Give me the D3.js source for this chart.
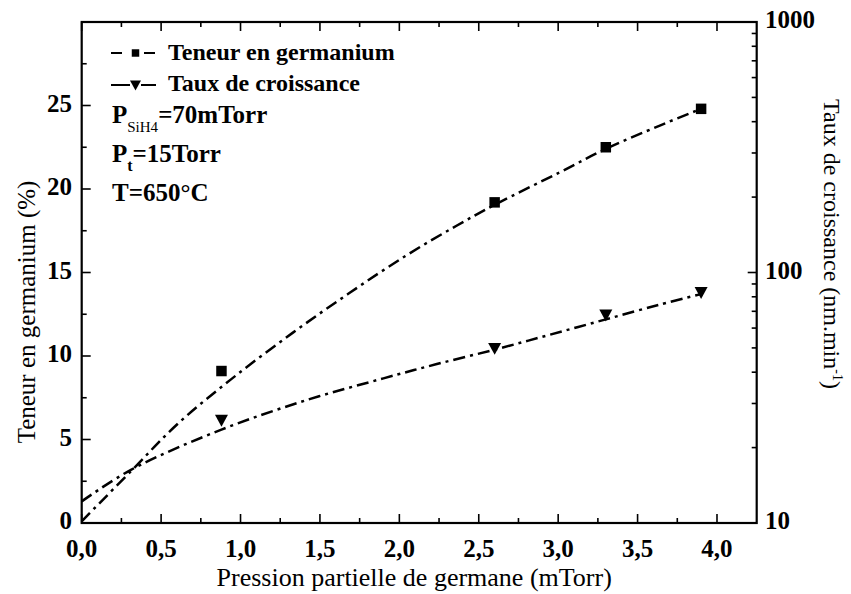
<!DOCTYPE html>
<html><head><meta charset="utf-8">
<script src="https://cdn.jsdelivr.net/npm/d3@7"></script>
<style>
body{margin:0;background:#fff;}
svg{display:block;}
text{font-family:"Liberation Serif","Times New Roman",serif;fill:#000;}
</style></head>
<body><svg id="c" width="851" height="594"></svg>
<script>
// ---- data ----
const pressure = [0.88, 2.6, 3.3, 3.9];            // mTorr
const geContent = [9.1, 19.2, 22.5, 24.8];          // %
const growthRate = [25.7, 49.8, 67.7, 83.3];        // nm/min
const geFitX = [0, 0.31, 0.6, 0.94, 1.33, 1.69, 2.04, 2.36, 2.61, 3.01, 3.3, 3.64, 3.9];
const geFitY = [0.1, 3.1, 5.9, 8.6, 11.4, 13.8, 16.0, 17.8, 19.1, 21.0, 22.4, 23.8, 24.8];
const grFitX = [0, 0.31, 0.88, 1.42, 1.9, 2.23, 2.61, 2.95, 3.3, 3.64, 3.9];
const grFitY = [12.2, 16.3, 23.6, 31.0, 37.8, 43.0, 49.4, 56.5, 65.0, 74.5, 82.0];
const xTicks = [0, 0.5, 1, 1.5, 2, 2.5, 3, 3.5, 4];
const yLTicks = [0, 5, 10, 15, 20, 25];
const yRTicks = [10, 100, 1000];
const legendLabels = ["Teneur en germanium", "Taux de croissance"];

// ---- layout ----
const L = 81.7, R = 756.7, T = 22, B = 523;
const svg = d3.select("#c");
const x = d3.scaleLinear().domain([0, 4.25]).range([L, R]);
const yL = d3.scaleLinear().domain([0, 30]).range([B, T]);
const yR = d3.scaleLog().domain([10, 1000]).range([B, T]);

svg.append("clipPath").attr("id","clip").append("rect")
  .attr("x", L).attr("y", T).attr("width", R-L).attr("height", B-T);

const fmt = d => d3.format(".1f")(d).replace(".", ",");
const MAJ = 9, MIN = 5;
const tickG = svg.append("g").attr("stroke","#000").attr("stroke-width",1.6);
const xMinor = d3.range(0.25, 4.25, 0.5);
xTicks.forEach(v => {
  tickG.append("line").attr("x1",x(v)).attr("x2",x(v)).attr("y1",B).attr("y2",B-MAJ);
  tickG.append("line").attr("x1",x(v)).attr("x2",x(v)).attr("y1",T).attr("y2",T+MAJ);
});
xMinor.forEach(v => {
  tickG.append("line").attr("x1",x(v)).attr("x2",x(v)).attr("y1",B).attr("y2",B-MIN);
  tickG.append("line").attr("x1",x(v)).attr("x2",x(v)).attr("y1",T).attr("y2",T+MIN);
});
yLTicks.forEach(v => tickG.append("line").attr("x1",L).attr("x2",L+MAJ).attr("y1",yL(v)).attr("y2",yL(v)));
d3.range(2.5, 30, 5).forEach(v => tickG.append("line").attr("x1",L).attr("x2",L+MIN).attr("y1",yL(v)).attr("y2",yL(v)));
yRTicks.forEach(v => tickG.append("line").attr("x1",R).attr("x2",R-MAJ).attr("y1",yR(v)).attr("y2",yR(v)));
[10,100].forEach(d => d3.range(2,10).forEach(k => {
  const v = d*k;
  tickG.append("line").attr("x1",R).attr("x2",R-MIN).attr("y1",yR(v)).attr("y2",yR(v));
}));

svg.append("rect").attr("x",L).attr("y",T).attr("width",R-L).attr("height",B-T)
  .attr("fill","none").attr("stroke","#000").attr("stroke-width",2.2);

// tick labels
const tf = 25;
xTicks.forEach(v => svg.append("text").attr("x",x(v)).attr("y",557).attr("text-anchor","middle")
  .attr("font-size",tf).attr("font-weight","bold").text(fmt(v)));
yLTicks.forEach(v => svg.append("text").attr("x",72).attr("y",yL(v)+6).attr("text-anchor","end")
  .attr("font-size",tf).attr("font-weight","bold").text(v));
yRTicks.forEach(v => svg.append("text").attr("x",765).attr("y",yR(v)+6).attr("text-anchor","start")
  .attr("font-size",tf).attr("font-weight","bold").text(v));

// axis titles
svg.append("text").attr("x",(L+R)/2 - 5).attr("y",586).attr("text-anchor","middle")
  .attr("font-size",26).text("Pression partielle de germane (mTorr)");
svg.append("text").attr("transform","translate(35,312) rotate(-90)").attr("text-anchor","middle")
  .attr("font-size",25).text("Teneur en germanium (%)");
const rt = svg.append("text").attr("transform","translate(824,244) rotate(90)").attr("text-anchor","middle")
  .attr("font-size",24);
rt.append("tspan").text("Taux de croissance (nm.min");
rt.append("tspan").attr("font-size",14).attr("dy",-9).text("-1");
rt.append("tspan").attr("dy",9).text(")");

// fit curves
const plot = svg.append("g").attr("clip-path","url(#clip)");
const dash = "12,5,3,5";
const geLine = d3.line().x((d,i)=>x(geFitX[i])).y(d=>yL(d)).curve(d3.curveCatmullRom);
const grLine = d3.line().x((d,i)=>x(grFitX[i])).y(d=>yR(d)).curve(d3.curveCatmullRom);
plot.append("path").attr("d",geLine(geFitY)).attr("fill","none").attr("stroke","#000")
  .attr("stroke-width",2.5).attr("stroke-dasharray",dash);
plot.append("path").attr("d",grLine(grFitY)).attr("fill","none").attr("stroke","#000")
  .attr("stroke-width",2.5).attr("stroke-dasharray",dash);

// markers
const sq = d3.symbol().type(d3.symbolSquare).size(110);
const tri = (cx, cy, w) => `M${cx-w/2},${cy-w*0.42}L${cx+w/2},${cy-w*0.42}L${cx},${cy+w*0.5}Z`;
pressure.forEach((p,i) => {
  svg.append("path").attr("d",sq()).attr("transform",`translate(${x(p)},${yL(geContent[i])})`).attr("fill","#000");
  svg.append("path").attr("d",tri(x(p), yR(growthRate[i]), 13)).attr("fill","#000");
});

// legend
const lg = svg.append("g");
lg.append("line").attr("x1",111).attr("x2",122).attr("y1",53).attr("y2",53).attr("stroke","#000").attr("stroke-width",2);
lg.append("line").attr("x1",144).attr("x2",155).attr("y1",53).attr("y2",53).attr("stroke","#000").attr("stroke-width",2);
lg.append("path").attr("d",d3.symbol().type(d3.symbolSquare).size(56)()).attr("transform","translate(135.5,53)");
lg.append("line").attr("x1",111).attr("x2",130).attr("y1",85).attr("y2",85).attr("stroke","#000").attr("stroke-width",2);
lg.append("line").attr("x1",141).attr("x2",156).attr("y1",85).attr("y2",85).attr("stroke","#000").attr("stroke-width",2);
lg.append("path").attr("d",tri(135.5,85,11));
legendLabels.forEach((t,i) => lg.append("text").attr("x",168).attr("y",60+i*31)
  .attr("font-size",24).attr("font-weight","bold").text(t));

const info = svg.append("g").attr("font-weight","bold").attr("font-size",25);
const t1 = info.append("text").attr("x",112).attr("y",123);
t1.append("tspan").text("P");
t1.append("tspan").attr("font-size",15).attr("font-weight","normal").attr("dy",9).text("SiH4");
t1.append("tspan").attr("dy",-9).text("=70mTorr");
const t2 = info.append("text").attr("x",112).attr("y",162);
t2.append("tspan").text("P");
t2.append("tspan").attr("font-size",16).attr("dy",9).text("t");
t2.append("tspan").attr("dy",-9).text("=15Torr");
info.append("text").attr("x",112).attr("y",201).text("T=650°C");
</script></body></html>
